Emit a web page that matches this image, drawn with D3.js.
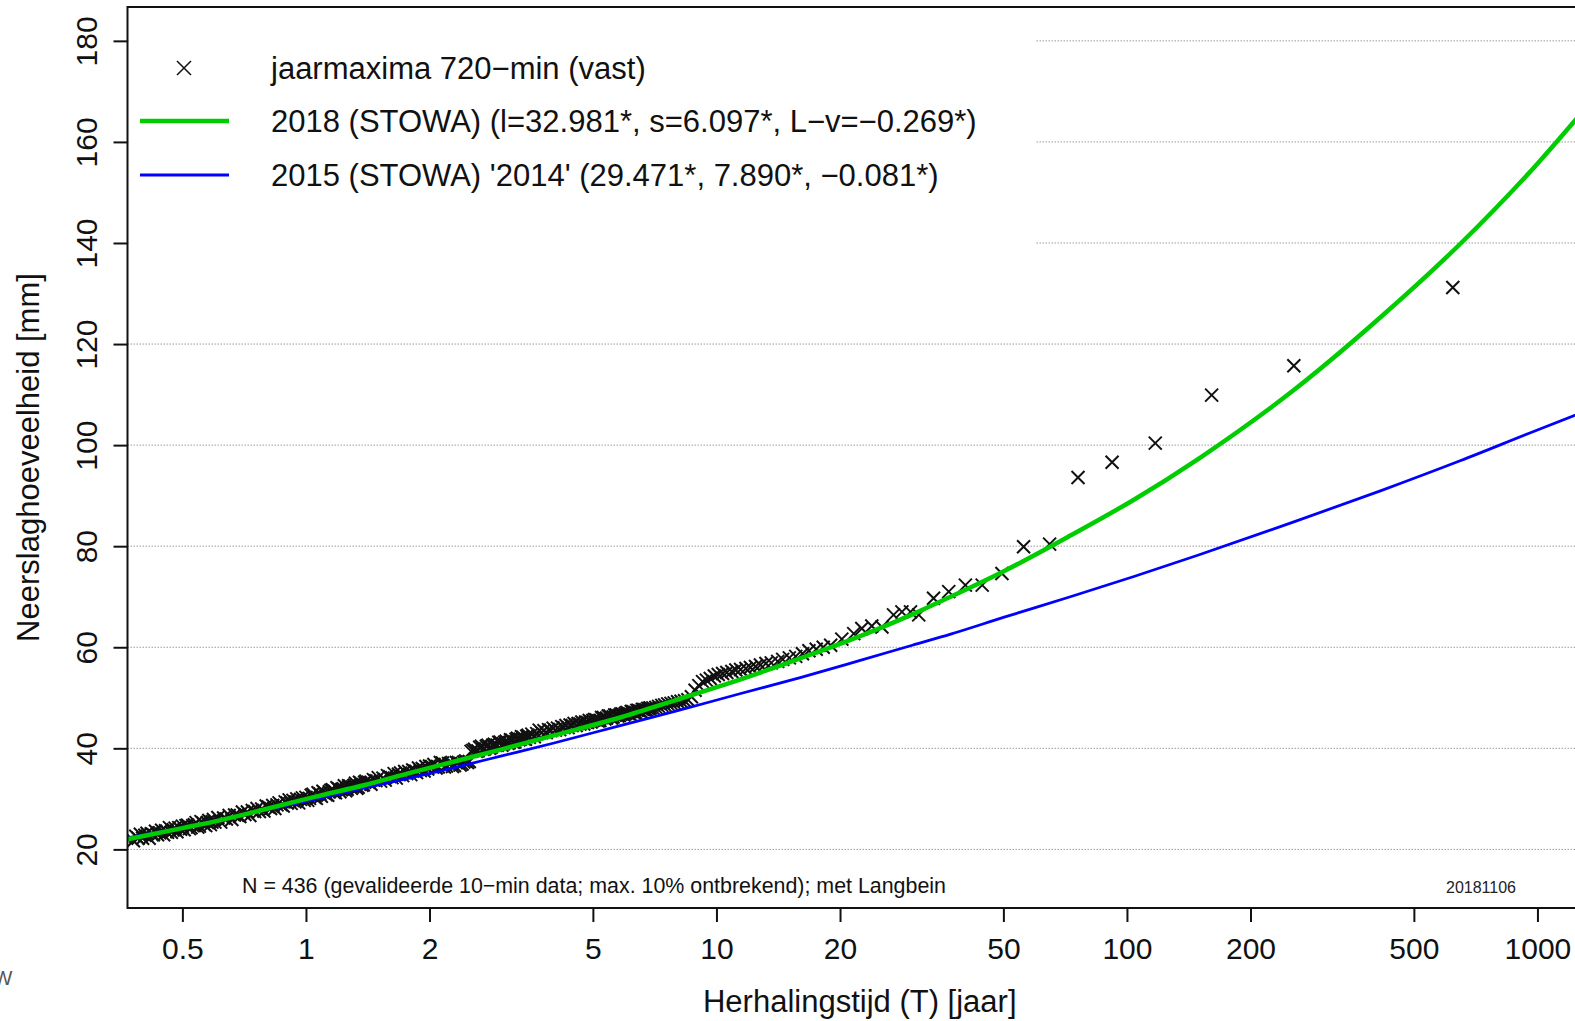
<!DOCTYPE html>
<html>
<head>
<meta charset="utf-8">
<script src="https://cdn.jsdelivr.net/npm/d3@7"></script>
<style>
  html, body { margin: 0; padding: 0; background: #fff; overflow: hidden; }
  svg { display: block; font-family: "Liberation Sans", Arial, Helvetica, sans-serif; }
</style>
</head>
<body>
<div id="chart"></div>
<script>
// Return periods (T, jaar) of the annual maxima
const obsT = [
  0.380, 0.385, 0.390, 0.395, 0.400, 0.405, 0.410, 0.415, 0.420, 0.425, 0.430, 0.435, 0.440,
  0.445, 0.450, 0.455, 0.460, 0.465, 0.470, 0.475, 0.480, 0.485, 0.490, 0.495, 0.500,
  0.51, 0.52, 0.53, 0.54, 0.55, 0.56, 0.57, 0.58, 0.59, 0.60, 0.61, 0.62, 0.63, 0.64, 0.65,
  0.66, 0.67, 0.68, 0.69, 0.70, 0.71, 0.72, 0.73, 0.74, 0.75, 0.76, 0.77, 0.78, 0.79, 0.80,
  0.81, 0.82, 0.83, 0.84, 0.85, 0.86, 0.87, 0.88, 0.89, 0.90, 0.91, 0.92, 0.93, 0.94, 0.95,
  0.96, 0.97, 0.98, 0.99, 1.00,
  1.02, 1.04, 1.06, 1.08, 1.10, 1.12, 1.14, 1.16, 1.18, 1.20, 1.22, 1.24, 1.26, 1.28, 1.30,
  1.32, 1.34, 1.36, 1.38, 1.40, 1.42, 1.44, 1.46, 1.48, 1.50, 1.52, 1.54, 1.56, 1.58, 1.60,
  1.62, 1.64, 1.66, 1.68, 1.70, 1.72, 1.74, 1.76, 1.78, 1.80, 1.82, 1.84, 1.86, 1.88, 1.90,
  1.92, 1.94, 1.96, 1.98, 2.00,
  2.05, 2.10, 2.15, 2.20, 2.25, 2.30, 2.35, 2.40, 2.45, 2.50, 2.55, 2.60, 2.65, 2.70, 2.75,
  2.80, 2.85, 2.90, 2.95, 3.00, 3.05, 3.10, 3.15, 3.20, 3.25, 3.30, 3.35, 3.40, 3.45, 3.50,
  3.55, 3.60, 3.65, 3.70, 3.75, 3.80, 3.85, 3.90, 3.95, 4.00, 4.05, 4.10, 4.15, 4.20, 4.25,
  4.30, 4.35, 4.40, 4.45, 4.50, 4.55, 4.60, 4.65, 4.70, 4.75, 4.80, 4.85, 4.90, 4.95, 5.00,
  5.1, 5.2, 5.3, 5.4, 5.5, 5.6, 5.7, 5.8, 5.9, 6.0, 6.1, 6.2, 6.3, 6.4, 6.5, 6.6, 6.7, 6.8, 6.9,
  7.0, 7.12, 7.23, 7.36, 7.48, 7.61, 7.75, 7.89, 8.04, 8.2, 8.36, 8.52, 8.69, 8.87, 9.06,
  9.25, 9.45, 9.66, 9.88, 10.1, 10.35, 10.6, 10.9, 11.15, 11.45, 11.8, 12.1, 12.45, 12.8,
  13.2, 13.6, 14.1, 14.5, 15.05, 15.6, 16.2, 16.8, 17.5, 18.2, 18.98,
  20.2, 21.6, 22.6, 23.9, 25.3, 27.0, 28.3, 29.7, 31.1, 33.8, 36.8, 40.4, 44.4, 49.6, 56.0,
  64.8, 76.0, 92.0, 117.2, 160.8, 255, 622,
  // in-between years of the dense band
  0.505, 0.515, 0.525, 0.535, 0.545, 0.555, 0.565, 0.575, 0.585, 0.595,
  1.01, 1.03, 1.05, 1.07, 1.09, 1.11, 1.13, 1.15, 1.17, 1.19, 1.21, 1.23, 1.25, 1.27, 1.29,
  1.31, 1.33, 1.35, 1.37, 1.39,
  2.025, 2.075, 2.125, 2.175, 2.225, 2.275, 2.325, 2.375, 2.425, 2.475, 2.525, 2.575, 2.625,
  2.675, 2.725, 2.775, 2.825, 2.875, 2.925, 2.975, 3.025, 3.075, 3.125, 3.175, 3.225, 3.275,
  3.325, 3.375, 3.425, 3.475,
  5.05, 5.15, 5.25, 5.35, 5.45, 5.55, 5.65, 5.75, 5.85, 5.95, 6.05, 6.15, 6.25, 6.35, 6.45,
  6.55, 6.65, 6.75, 6.85
];

// Annual maxima (mm), same order as obsT
const obsMm = [
  21.7, 22.6, 22.2, 23.0, 22.2, 22.8, 23.2, 22.2, 23.1, 22.9, 23.6, 22.9, 23.3,
  23.8, 22.9, 23.7, 23.4, 24.3, 23.4, 23.9, 24.2, 23.5, 24.3, 24.0, 24.6,
  24.7, 24.1, 24.7, 25.3, 24.6, 25.3, 24.7, 25.7, 25.4, 25.4, 26.3, 25.4, 26.2, 26.0, 26.7,
  25.9, 26.8, 26.8, 26.5, 27.4, 26.9, 27.4, 26.7, 27.7, 27.5, 28.1, 27.5, 28.0, 27.6, 28.6,
  28.4, 28.1, 28.7, 28.1, 28.8, 29.2, 28.8, 28.6, 29.4, 29.2, 29.8, 29.1, 29.7, 29.4, 30.0,
  29.2, 29.9, 30.2, 29.7, 30.3,
  30.1, 30.9, 30.1, 31.0, 31.5, 30.8, 31.4, 31.8, 31.2, 32.0, 31.8, 32.6, 31.9, 32.5, 32.4,
  33.1, 32.3, 33.1, 32.8, 33.5, 33.3, 32.9, 33.8, 33.6, 34.2, 33.5, 34.1, 33.7, 34.6, 34.4,
  34.2, 35.0, 34.1, 34.9, 35.1, 34.6, 35.4, 35.0, 35.4, 34.8, 35.7, 35.5, 35.2, 36.1, 35.6,
  36.0, 35.5, 36.4, 35.9, 36.5,
  36.8, 36.3, 37.1, 36.5, 37.0, 36.6, 37.2, 36.9, 37.5, 37.4, 39.6, 39.4, 40.2, 39.8, 40.4,
  40.0, 40.6, 40.6, 41.2, 40.6, 41.2, 41.0, 41.7, 41.2, 41.8, 41.7, 42.3, 41.9, 42.4, 42.2,
  42.8, 42.3, 42.9, 43.6, 43.1, 43.5, 43.1, 43.7, 43.5, 44.0, 43.6, 44.0, 43.7, 44.3, 44.1,
  44.5, 44.1, 44.6, 44.5, 44.9, 44.5, 44.9, 44.8, 45.2, 44.8, 45.2, 45.1, 45.5, 45.2, 45.5,
  45.6, 45.5, 46.1, 46.0, 46.4, 46.2, 46.6, 46.5, 46.8, 46.9, 46.9, 47.3, 47.1, 47.5, 47.4,
  47.7, 47.6, 47.9, 48.0,
  48.0, 48.1, 48.3, 48.5, 48.6, 48.8, 48.9, 49.0, 49.2, 49.3, 49.4, 49.6, 50.2, 51.5, 52.4,
  53.2, 53.5, 53.8, 54.3, 54.6, 54.8, 55.0, 55.2, 55.5, 55.6, 55.8, 56.0, 56.2, 56.5,
  56.8, 56.9, 57.2, 57.6, 57.9, 58.2, 58.7, 59.3, 59.6, 60.0, 60.4,
  61.6, 62.7, 63.7, 64.2, 64.0, 66.4, 67.0, 67.0, 66.4, 69.7, 71.0, 72.3, 72.3, 74.6, 79.9,
  80.4, 93.6, 96.6, 100.4, 109.9, 115.7, 131.2,
  // in-between years of the dense band
  23.9, 24.8, 24.3, 24.9, 24.4, 25.5, 24.9, 25.3, 24.9, 25.9,
  29.7, 30.7, 30.3, 31.2, 30.5, 31.2, 30.7, 31.7, 31.3, 32.2, 31.4, 32.0, 31.6, 32.6, 32.1,
  32.7, 32.1, 33.3, 32.7, 33.3,
  36.4, 36.1, 37.2, 36.3, 37.0, 36.4, 37.2, 36.7, 37.3, 37.2, 39.4, 39.8, 39.5,
  40.4, 39.9, 40.6, 40.2, 40.8, 40.6, 41.2, 40.9, 41.4, 41.1, 41.6, 41.3, 42.0,
  41.8, 42.2, 41.8, 42.6,
  45.7, 45.4, 46.1, 45.8, 46.4, 46.0, 46.6, 46.4, 46.8, 46.6, 47.1, 46.8, 47.3, 47.1, 47.5,
  47.3, 47.7, 47.6, 47.9
];

// Fitted curves, read along T
const curveT = [0.3675, 0.5, 0.62, 0.8, 1.05, 1.4, 1.765, 2.3, 3, 4, 5.83, 8, 11.4, 16, 22.4,
  30, 37.2, 50, 72.8, 104, 150, 255, 416, 648, 1000, 1358];
const stowa2018 = [22.0, 24.2, 25.8, 28.0, 30.4, 32.8, 35.0, 37.4, 39.8, 42.5, 46.1, 49.6, 53.6,
  57.8, 62.2, 66.5, 70.0, 75.0, 82.1, 89.2, 97.4, 110.9, 125.4, 139.8, 155.7, 168.2];
const stowa2015 = [22.3, 24.3, 25.9, 27.8, 29.9, 32.2, 34.0, 36.2, 38.5, 41.0, 44.5, 47.4, 50.8,
  54.0, 57.4, 60.4, 62.6, 65.9, 70.0, 74.0, 78.3, 84.8, 91.0, 96.9, 103.0, 107.2];

const xTicks = [0.5, 1, 2, 5, 10, 20, 50, 100, 200, 500, 1000];
const yTicks = [20, 40, 60, 80, 100, 120, 140, 160, 180];
const xDomain = [0.3675, 1358];
const yDomain = [8.4, 186.7];

const legendItems = [
  { kind: 'cross', label: 'jaarmaxima 720\u2212min (vast)' },
  { kind: 'line', color: '#00cd00', width: 4.5, label: '2018 (STOWA) (l=32.981*, s=6.097*, L\u2212v=\u22120.269*)' },
  { kind: 'line', color: '#0000ff', width: 2.8, label: "2015 (STOWA) '2014' (29.471*, 7.890*, \u22120.081*)" }
];

// 1. Setup SVG
const width = 1575, height = 1021;
const plot = { left: 127.5, top: 7, right: 1592, bottom: 908 };

const svg = d3.select('#chart').append('svg')
  .attr('width', width)
  .attr('height', height);

const x = d3.scaleLog().domain(xDomain).range([plot.left, plot.right]);
const y = d3.scaleLinear().domain(yDomain).range([plot.bottom, plot.top]);

svg.append('defs').append('clipPath').attr('id', 'plot-clip')
  .append('rect')
  .attr('x', plot.left).attr('y', plot.top)
  .attr('width', plot.right - plot.left).attr('height', plot.bottom - plot.top);

// 2. Grid (dotted)
svg.append('g')
  .selectAll('line')
  .data(yTicks)
  .join('line')
  .attr('x1', plot.left).attr('x2', plot.right)
  .attr('y1', d => y(d)).attr('y2', d => y(d))
  .attr('stroke', '#9a9a9a')
  .attr('stroke-width', 1)
  .attr('stroke-dasharray', '1.5,1.5');

// 3. Data
const plotArea = svg.append('g').attr('clip-path', 'url(#plot-clip)');
const points = obsT.map((t, i) => ({ t, v: obsMm[i] }));
const crossPath = 'M-6.5,-6.5L6.5,6.5M-6.5,6.5L6.5,-6.5';

plotArea.selectAll('path.obs')
  .data(points)
  .join('path')
  .attr('class', 'obs')
  .attr('transform', d => `translate(${x(d.t)},${y(d.v)})`)
  .attr('d', crossPath)
  .attr('fill', 'none')
  .attr('stroke', '#111')
  .attr('stroke-width', 2);

const line = d3.line()
  .x(d => x(d.t))
  .y(d => y(d.v))
  .curve(d3.curveMonotoneX);

plotArea.append('path')
  .datum(curveT.map((t, i) => ({ t, v: stowa2015[i] })))
  .attr('d', line)
  .attr('fill', 'none')
  .attr('stroke', '#0000ff')
  .attr('stroke-width', 2.8);

plotArea.append('path')
  .datum(curveT.map((t, i) => ({ t, v: stowa2018[i] })))
  .attr('d', line)
  .attr('fill', 'none')
  .attr('stroke', '#00cd00')
  .attr('stroke-width', 4.5);

// 4. Legend (white box hides the grid behind it)
svg.append('rect')
  .attr('x', plot.left + 1).attr('y', plot.top + 1)
  .attr('width', 1035 - plot.left - 1).attr('height', 255)
  .attr('fill', '#fff');

const legend = svg.append('g');
const rowY = [68, 121, 175];
legendItems.forEach((item, i) => {
  if (item.kind === 'cross') {
    legend.append('path')
      .attr('transform', `translate(184,${rowY[i]})`)
      .attr('d', 'M-7,-7L7,7M-7,7L7,-7')
      .attr('stroke', '#111').attr('stroke-width', 1.5);
  } else {
    legend.append('line')
      .attr('x1', 140).attr('x2', 229)
      .attr('y1', rowY[i]).attr('y2', rowY[i])
      .attr('stroke', item.color)
      .attr('stroke-width', item.width);
  }
  legend.append('text')
    .attr('x', 271)
    .attr('y', rowY[i] + 11)
    .attr('font-size', 31)
    .attr('fill', '#111')
    .text(item.label);
});

// 5. Axes
svg.append('g')
  .attr('transform', `translate(0,${plot.bottom})`)
  .call(d3.axisBottom(x).tickValues(xTicks).tickFormat(d => String(d)).tickSize(14))
  .call(g => g.select('.domain').remove())
  .call(g => g.selectAll('line').attr('stroke', '#111').attr('stroke-width', 2))
  .call(g => g.selectAll('text')
    .attr('y', 51).attr('dy', 0)
    .attr('font-size', 30)
    .attr('font-family', null)
    .attr('fill', '#111'));

svg.append('g')
  .attr('transform', `translate(${plot.left},0)`)
  .call(d3.axisLeft(y).tickValues(yTicks).tickSize(14))
  .call(g => g.select('.domain').remove())
  .call(g => g.selectAll('line').attr('stroke', '#111').attr('stroke-width', 2))
  .call(g => g.selectAll('text')
    .attr('transform', 'rotate(-90)')
    .attr('x', 0).attr('y', -31).attr('dy', 0)
    .attr('text-anchor', 'middle')
    .attr('font-size', 30)
    .attr('font-family', null)
    .attr('fill', '#111'));

// plot frame
svg.append('rect')
  .attr('x', plot.left).attr('y', plot.top)
  .attr('width', plot.right - plot.left).attr('height', plot.bottom - plot.top)
  .attr('fill', 'none')
  .attr('stroke', '#111')
  .attr('stroke-width', 2);

// 6. Titles and notes
svg.append('text')
  .attr('x', (plot.left + plot.right) / 2).attr('y', 1012)
  .attr('text-anchor', 'middle')
  .attr('font-size', 31)
  .attr('fill', '#111')
  .text('Herhalingstijd (T) [jaar]');

svg.append('text')
  .attr('transform', `translate(38.5,${(plot.top + plot.bottom) / 2}) rotate(-90)`)
  .attr('text-anchor', 'middle')
  .attr('font-size', 31)
  .attr('fill', '#111')
  .text('Neerslaghoeveelheid [mm]');

svg.append('text')
  .attr('x', 242).attr('y', 893)
  .attr('font-size', 21.4)
  .attr('fill', '#111')
  .text('N = 436 (gevalideerde 10\u2212min data; max. 10% ontbrekend); met Langbein');

svg.append('text')
  .attr('x', 1446).attr('y', 892.5)
  .attr('font-size', 16)
  .attr('fill', '#222')
  .text('20181106');

svg.append('text')
  .attr('x', 12.5).attr('y', 985)
  .attr('text-anchor', 'end')
  .attr('font-size', 20)
  .attr('fill', '#555')
  .text('W');
</script>
</body>
</html>
